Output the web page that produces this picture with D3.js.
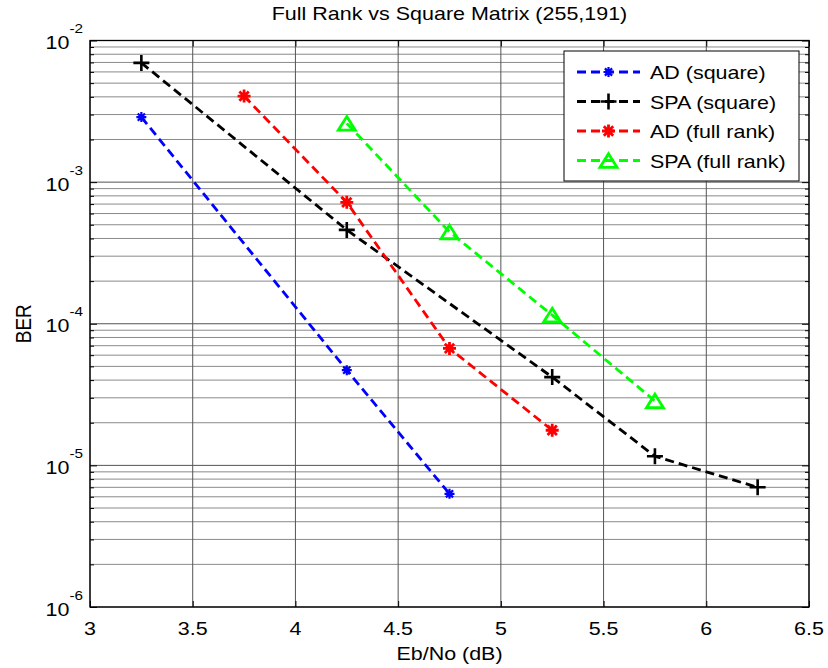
<!DOCTYPE html>
<html>
<head>
<meta charset="utf-8">
<script src="https://cdn.jsdelivr.net/npm/d3@7/dist/d3.min.js"></script>
<style>
  html, body { margin: 0; padding: 0; background: #fff; }
  svg { display: block; }
  text { font-family: "Liberation Sans", Arial, sans-serif; fill: #000; }
</style>
</head>
<body>
<svg id="chart" width="828" height="668"></svg>
<script>
// Eb/No values (dB) for each curve
const ebnoADsq   = [3.25, 4.25, 4.75];
const berADsq    = [2.88e-3, 4.7e-5, 6.3e-6];

const ebnoSPAsq  = [3.25, 4.25, 5.25, 5.75, 6.25];
const berSPAsq   = [6.95e-3, 4.6e-4, 4.2e-5, 1.16e-5, 7.0e-6];

const ebnoADfr   = [3.75, 4.25, 4.75, 5.25];
const berADfr    = [4.05e-3, 7.2e-4, 6.7e-5, 1.77e-5];

const ebnoSPAfr  = [4.25, 4.75, 5.25, 5.75];
const berSPAfr   = [2.6e-3, 4.45e-4, 1.15e-4, 2.85e-5];

const seriesNames = ["AD (square)", "SPA (square)", "AD (full rank)", "SPA (full rank)"];
const xTicks = [3, 3.5, 4, 4.5, 5, 5.5, 6, 6.5];
const yTickExps = [-2, -3, -4, -5, -6];

const series = [
  { name: seriesNames[0], x: ebnoADsq,  y: berADsq,  color: "#0000ff", marker: "star", size: 10, mw: 2.2 },
  { name: seriesNames[1], x: ebnoSPAsq, y: berSPAsq, color: "#000000", marker: "plus", size: 16, mw: 2.6 },
  { name: seriesNames[2], x: ebnoADfr,  y: berADfr,  color: "#ff0000", marker: "star", size: 13, mw: 2.8 },
  { name: seriesNames[3], x: ebnoSPAfr, y: berSPAfr, color: "#00ff00", marker: "tri",  size: 17, mw: 2.8 }
];

const svg = d3.select("#chart");
const L = 90, R = 809, T = 40.5, B = 607;
const SX = 1.13;     // horizontal stretch applied to all text
const FS = 19;       // base font size

const x = d3.scaleLinear().domain([3, 6.5]).range([L, R]);
const y = d3.scaleLog().domain([1e-6, 1e-2]).range([B, T]);

// place a text element with a slight horizontal stretch
function label(parent, tx, ty, str, anchor, rot) {
  const g = parent.append("g")
    .attr("transform", `translate(${tx},${ty})${rot ? ` rotate(${rot})` : ""} scale(${SX},1)`);
  const t = g.append("text").attr("text-anchor", anchor || "start").attr("font-size", FS);
  if (str !== null) t.text(str);
  return t;
}

// minor grid values: 2..9 within each decade
const minorVals = [];
for (let e = -6; e < -2; e++) {
  for (let m = 2; m <= 9; m++) minorVals.push(m * Math.pow(10, e));
}
const majorVals = yTickExps.map(e => Math.pow(10, e));

const grid = svg.append("g");
grid.selectAll("line.minor").data(minorVals).join("line")
  .attr("x1", L).attr("x2", R)
  .attr("y1", d => y(d)).attr("y2", d => y(d))
  .attr("stroke", "#8a8a8a").attr("stroke-width", 1);
grid.selectAll("line.major").data(majorVals).join("line")
  .attr("x1", L).attr("x2", R)
  .attr("y1", d => y(d)).attr("y2", d => y(d))
  .attr("stroke", "#555").attr("stroke-width", 1);
grid.selectAll("line.vx").data(xTicks).join("line")
  .attr("x1", d => x(d)).attr("x2", d => x(d))
  .attr("y1", T).attr("y2", B)
  .attr("stroke", "#555").attr("stroke-width", 1);

// axes: ticks pointing inward
const axB = svg.append("g").attr("transform", `translate(0,${B})`)
  .call(d3.axisBottom(x).tickValues(xTicks).tickSize(-6).tickFormat(""));
const axT = svg.append("g").attr("transform", `translate(0,${T})`)
  .call(d3.axisTop(x).tickValues(xTicks).tickSize(-6).tickFormat(""));
const axL = svg.append("g").attr("transform", `translate(${L},0)`)
  .call(d3.axisLeft(y).tickValues(majorVals).tickSize(-7).tickFormat(""));
const axR = svg.append("g").attr("transform", `translate(${R},0)`)
  .call(d3.axisRight(y).tickValues(majorVals).tickSize(-7).tickFormat(""));
const axLm = svg.append("g").attr("transform", `translate(${L},0)`)
  .call(d3.axisLeft(y).tickValues(minorVals).tickSize(-4).tickFormat(""));
const axRm = svg.append("g").attr("transform", `translate(${R},0)`)
  .call(d3.axisRight(y).tickValues(minorVals).tickSize(-4).tickFormat(""));
[axB, axT, axL, axR, axLm, axRm].forEach(a => {
  a.select(".domain").remove();
  a.selectAll(".tick line").attr("stroke", "#000");
});

// x tick labels
const fmtX = d3.format("");
const xl = svg.append("g");
xTicks.forEach(v => label(xl, x(v), 635, fmtX(v), "middle"));

// y tick labels as 10 with superscript exponent
const yl = svg.append("g");
yTickExps.forEach(e => {
  const t = label(yl, L - 7, y(Math.pow(10, e)) + 8.5, null, "end");
  t.append("tspan").text("10");
  t.append("tspan").attr("font-size", 13.5).attr("dy", -16).text(String(e));
});

// frame
svg.append("rect").attr("x", L).attr("y", T).attr("width", R - L).attr("height", B - T)
  .attr("fill", "none").attr("stroke", "#000").attr("stroke-width", 1.3);

// marker path generator
function markerPath(type, s) {
  const h = s / 2;
  if (type === "plus") return `M${-h},0H${h}M0,${-h}V${h}`;
  if (type === "star") {
    const d = h * 0.72;
    return `M${-h},0H${h}M0,${-h}V${h}M${-d},${-d}L${d},${d}M${-d},${d}L${d},${-d}`;
  }
  if (type === "tri") {
    const hh = s * 0.4;
    return `M0,${-hh}L${h},${hh}L${-h},${hh}Z`;
  }
  return "";
}

const line = d3.line().x(d => x(d[0])).y(d => y(d[1]));
const plot = svg.append("g");
series.forEach(s => {
  const pts = s.x.map((v, i) => [v, s.y[i]]);
  plot.append("path").datum(pts)
    .attr("d", line).attr("fill", "none")
    .attr("stroke", s.color).attr("stroke-width", 2.8)
    .attr("stroke-dasharray", "9,5");
  plot.selectAll(null).data(pts).join("path")
    .attr("transform", d => `translate(${x(d[0])},${y(d[1])})`)
    .attr("d", markerPath(s.marker, s.size))
    .attr("fill", "none").attr("stroke", s.color).attr("stroke-width", s.mw);
});

// legend
const lg = svg.append("g");
lg.append("rect").attr("x", 564).attr("y", 51).attr("width", 235).attr("height", 130)
  .attr("fill", "#fff").attr("stroke", "#000").attr("stroke-width", 1);
series.forEach((s, i) => {
  const yy = 72 + i * 29.5;
  lg.append("line").attr("x1", 577).attr("x2", 640).attr("y1", yy).attr("y2", yy)
    .attr("stroke", s.color).attr("stroke-width", 2.8).attr("stroke-dasharray", "9,5");
  lg.append("path").attr("transform", `translate(608.5,${yy})`)
    .attr("d", markerPath(s.marker, s.size))
    .attr("fill", "none").attr("stroke", s.color).attr("stroke-width", s.mw);
  label(lg, 650, yy + 7, s.name, "start");
});

// title and axis labels
label(svg, (L + R) / 2, 20, "Full Rank vs Square Matrix (255,191)", "middle");
label(svg, (L + R) / 2, 660, "Eb/No (dB)", "middle");
svg.append("text").attr("transform", `translate(31,${(T + B) / 2}) rotate(-90) scale(1,${SX})`)
  .attr("text-anchor", "middle").attr("font-size", FS).text("BER");
</script>
</body>
</html>
